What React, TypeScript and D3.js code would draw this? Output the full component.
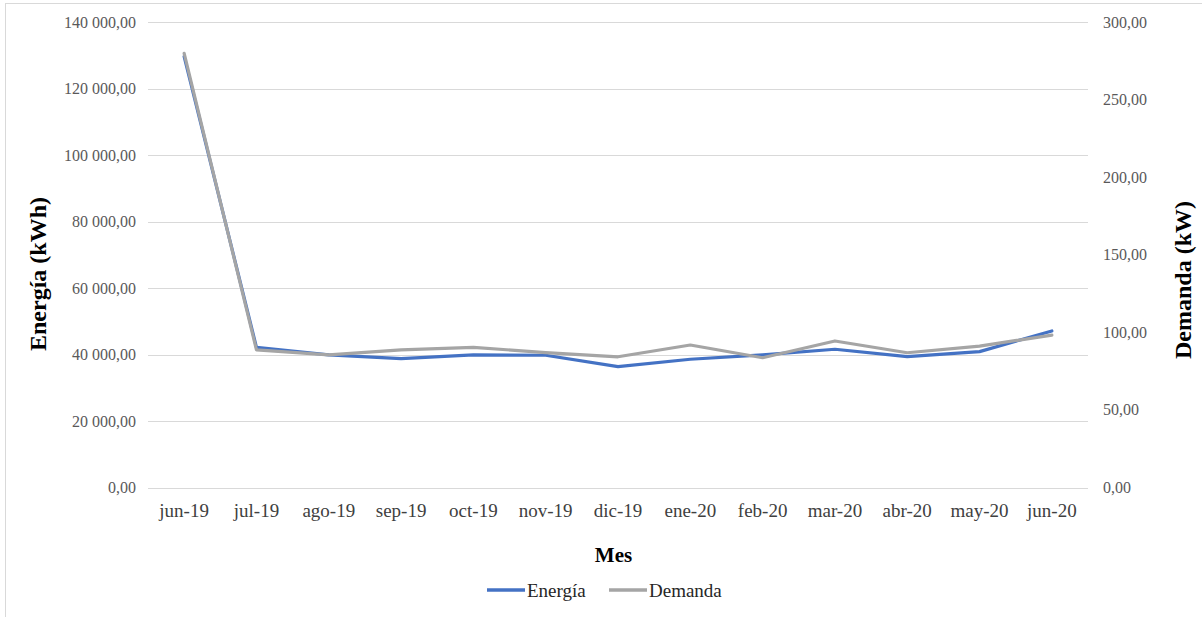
import React from "react";
import * as d3 from "d3";

const months = ["jun-19", "jul-19", "ago-19", "sep-19", "oct-19", "nov-19", "dic-19", "ene-20", "feb-20", "mar-20", "abr-20", "may-20", "jun-20"];
const energia = [129700, 42200, 39900, 38800, 39900, 39800, 36400, 38600, 39900, 41600, 39400, 40900, 47100];
const demanda = [280, 88.7, 85.5, 88.7, 90.4, 87, 84.3, 91.9, 83.7, 94.5, 86.9, 91.2, 98.3];
const leftTicks = [0, 20000, 40000, 60000, 80000, 100000, 120000, 140000];
const rightTicks = [0, 50, 100, 150, 200, 250, 300];

const W = 1202;
const H = 617;
const plot = { left: 148, right: 1088, top: 22.3, bottom: 487.5 };
const FONT = '"Liberation Serif", "Times New Roman", "DejaVu Serif", serif';
const ts: React.CSSProperties = { fontFamily: FONT };

function fmt(v: number) {
  const s = d3.format(",.2f")(v);
  return s.replace(/,/g, " ").replace(".", ",");
}

export default function App() {
  const x = d3.scaleBand<string>().domain(months).range([plot.left, plot.right]).padding(0);
  const cx = (m: string) => (x(m) as number) + x.bandwidth() / 2;
  const yL = d3.scaleLinear().domain([0, 140000]).range([plot.bottom, plot.top]);
  const yR = d3.scaleLinear().domain([0, 300]).range([plot.bottom, plot.top]);

  const lineE = d3.line<number>().x((_, i) => cx(months[i])).y((d) => yL(d));
  const lineD = d3.line<number>().x((_, i) => cx(months[i])).y((d) => yR(d));

  return (
    <div style={{ position: "fixed", left: 0, top: 0 }}>
      <svg width={W} height={H} style={{ display: "block", background: "#fff", fontFamily: FONT }}>
        <rect x={5.5} y={3.5} width={W + 10} height={H + 10} fill="#fff" stroke="#d9d9d9" strokeWidth={1} />
        {leftTicks.map((t) => (
          <line key={"g" + t} x1={plot.left} x2={plot.right} y1={Math.round(yL(t)) + 0.5} y2={Math.round(yL(t)) + 0.5} stroke="#d9d9d9" strokeWidth={1} />
        ))}
        {leftTicks.map((t) => (
          <text key={"l" + t} x={136} y={yL(t) + 5.5} textAnchor="end" fontSize={16} fill="#595959" style={ts}>
            {fmt(t)}
          </text>
        ))}
        {rightTicks.map((t) => (
          <text key={"r" + t} x={1103} y={yR(t) + 5.5} textAnchor="start" fontSize={16} fill="#595959" style={ts}>
            {fmt(t)}
          </text>
        ))}
        {months.map((m) => (
          <text key={"x" + m} x={cx(m)} y={517} textAnchor="middle" fontSize={19} fill="#404040" style={ts}>
            {m}
          </text>
        ))}
        <path d={lineE(energia) || ""} fill="none" stroke="#4472C4" strokeWidth={3.2} strokeLinejoin="round" strokeLinecap="round" />
        <path d={lineD(demanda) || ""} fill="none" stroke="#A5A5A5" strokeWidth={3.2} strokeLinejoin="round" strokeLinecap="round" />
        <text transform={`translate(46,274) rotate(-90)`} textAnchor="middle" fontSize={24} fontWeight="bold" fill="#000" style={ts}>
          Energía (kWh)
        </text>
        <text transform={`translate(1191,280) rotate(-90)`} textAnchor="middle" fontSize={24} fontWeight="bold" fill="#000" style={ts}>
          Demanda (kW)
        </text>
        <text x={613.5} y={562} textAnchor="middle" fontSize={21} fontWeight="bold" fill="#000" style={ts}>
          Mes
        </text>
        <line x1={487} x2={525} y1={590} y2={590} stroke="#4472C4" strokeWidth={3.5} />
        <text x={527} y={597} fontSize={19} fill="#262626" style={ts}>Energía</text>
        <line x1={609} x2={647} y1={590} y2={590} stroke="#A5A5A5" strokeWidth={3.5} />
        <text x={649} y={597} fontSize={19} fill="#262626" style={ts}>Demanda</text>
      </svg>
    </div>
  );
}
